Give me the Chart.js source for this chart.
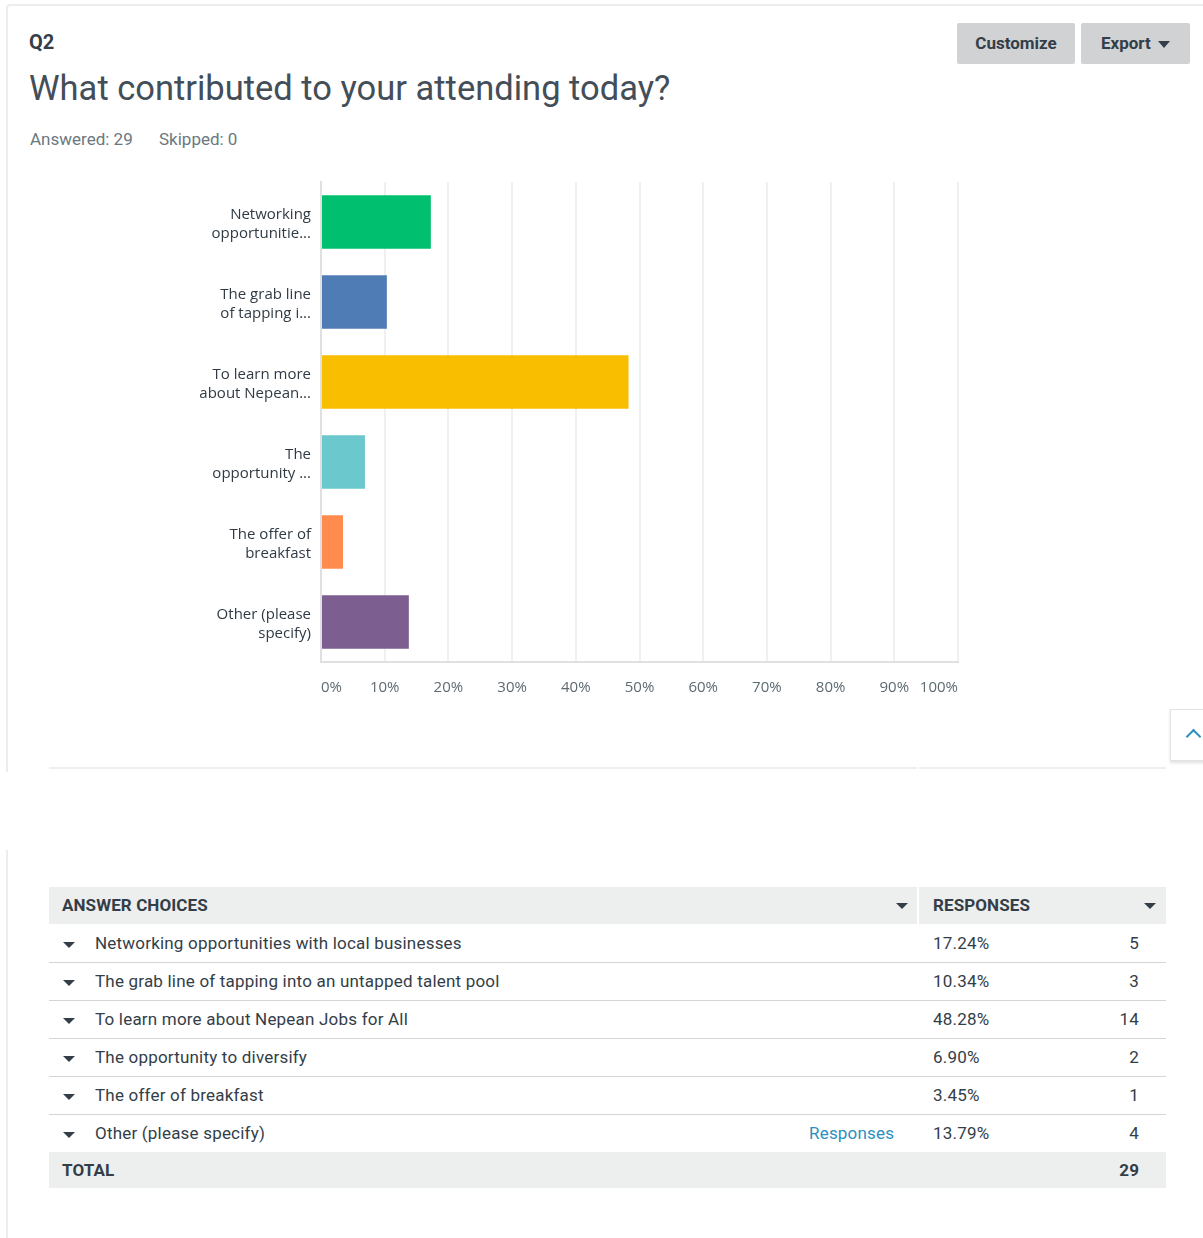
<!DOCTYPE html>
<html>
<head>
<meta charset="utf-8">
<script src="https://cdn.jsdelivr.net/npm/chart.js@4/dist/chart.umd.min.js"></script>
<style>
  body { margin: 0; width: 1203px; height: 1238px; position: relative; overflow: hidden; background: #fff;
         font-family: Roboto, "Noto Sans", sans-serif; color: #333e48; }
  .card1 { position: absolute; left: 6px; top: 4px; width: 1250px; height: 766px;
           border-top: 2px solid #eceeee; border-left: 2px solid #eceeee; border-top-left-radius: 4px; }
  .card2 { position: absolute; left: 6px; top: 850px; height: 400px; border-left: 2px solid #eceeee; }
  .q { position: absolute; left: 29px; top: 30px; font-size: 20px; font-weight: 700; }
  .title { position: absolute; left: 29px; top: 68px; font-size: 34.5px; font-weight: 400; white-space: nowrap; color: #434e58; }
  .meta { position: absolute; top: 129px; font-size: 17px; color: #6b787f; }
  .btn { position: absolute; top: 23px; height: 41px; background: #d0d2d3; border-radius: 2px;
         font-weight: 700; font-size: 17px; line-height: 41px; text-align: center; color: #333e48; }
  .tri { display: inline-block; width: 0; height: 0; border-left: 6px solid transparent;
         border-right: 6px solid transparent; border-top: 6px solid #333e48; vertical-align: middle; }
  #chartBox { position: absolute; left: 150px; top: 170px; width: 830px; height: 550px; }
  .divider { position: absolute; top: 767px; height: 2px; background: #eeefef; }
  .totop { position: absolute; left: 1170px; top: 709px; width: 45px; height: 50px; background: #fff;
           border: 1px solid #e3e3e3; box-shadow: 0 2px 3px rgba(0,0,0,0.12); }
  .totop i { position: absolute; left: 17px; top: 21px; width: 9px; height: 9px;
             border-left: 2px solid #2d8fc0; border-top: 2px solid #2d8fc0; transform: rotate(45deg); }
  .row { position: absolute; left: 49px; width: 1117px; font-size: 17px; letter-spacing: 0.2px; line-height: 37px; }
  .row span { position: absolute; white-space: nowrap; }
  .hdr { background: #edeeee; font-weight: 700; text-transform: uppercase; letter-spacing: 0.1px; }
</style>
</head>
<body>
<div class="card1"></div>
<div class="card2"></div>

<div class="q">Q2</div>
<div class="title">What contributed to your attending today?</div>
<div class="meta" style="left:30px">Answered: 29</div>
<div class="meta" style="left:159px">Skipped: 0</div>
<div class="btn" style="left:957px;width:118px">Customize</div>
<div class="btn" style="left:1081px;width:109px">Export <span class="tri" style="margin-left:3px;border-top-width:7px"></span></div>

<div id="chartBox"><canvas id="q2-chart"></canvas></div>

<div class="divider" style="left:49px;width:868px"></div>
<div class="divider" style="left:919px;width:247px"></div>
<div class="totop"><i></i></div>

<div id="q2-table"></div>

<script>
// answer choices, as shown in the chart and the table
const chartLabels = [
    ['Networking', 'opportunitie...'],
    ['The grab line', 'of tapping i...'],
    ['To learn more', 'about Nepean...'],
    ['The', 'opportunity ...'],
    ['The offer of', 'breakfast'],
    ['Other (please', 'specify)']
];
const choices = [
    'Networking opportunities with local businesses',
    'The grab line of tapping into an untapped talent pool',
    'To learn more about Nepean Jobs for All',
    'The opportunity to diversify',
    'The offer of breakfast',
    'Other (please specify)'
];
const percents = [17.24, 10.34, 48.28, 6.90, 3.45, 13.79];
const counts = [5, 3, 14, 2, 1, 4];
const barColors = ['#00bf6f', '#507cb6', '#f9be00', '#6bc8cd', '#ff8b4f', '#7d5e90'];
const tickLabels = ['0%', '10%', '20%', '30%', '40%', '50%', '60%', '70%', '80%', '90%', '100%'];

const chartConfig = {
    type: 'bar',
    data: {
        labels: chartLabels,
        datasets: [{
            data: percents,
            backgroundColor: barColors,
            barPercentage: 0.67,
            categoryPercentage: 1
        }]
    },
    options: {
        indexAxis: 'y',
        responsive: true,
        maintainAspectRatio: false,
        animation: false,
        layout: {
            padding: { top: 12, right: 22, left: 0, bottom: 0 }
        },
        scales: {
            x: {
                min: 0,
                max: 100,
                ticks: {
                    stepSize: 10,
                    align: 'inner',
                    padding: 17,
                    color: '#5d6a72',
                    font: { family: 'Open Sans', size: 15 },
                    callback: function (value, index) {
                        return tickLabels[index];
                    }
                },
                grid: { color: '#f0f0f0', lineWidth: 2, drawTicks: false },
                border: { color: '#e0e0e0', width: 2 },
                afterFit: function (scale) {
                    scale.height = 58;
                }
            },
            y: {
                ticks: {
                    padding: 10,
                    labelOffset: 2,
                    color: '#2f3a44',
                    font: { family: 'Open Sans', size: 15, lineHeight: '19px' }
                },
                grid: { display: false, drawTicks: false },
                border: { color: '#e0e0e0', width: 2 },
                afterFit: function (scale) {
                    // fixed label column, no extra room above/below for the labels
                    scale.width = 171;
                    scale.paddingTop = 0;
                    scale.paddingBottom = 0;
                }
            }
        },
        plugins: {
            legend: { display: false },
            tooltip: { enabled: false }
        }
    }
};

new Chart(document.getElementById('q2-chart'), chartConfig);

// summary table below the chart
(function () {
    const table = document.getElementById('q2-table');
    let html = '';
    html += '<div class="row hdr" style="top:887px;height:37px;background:none">' +
        '<div style="position:absolute;left:0;top:0;width:868px;height:37px;background:#edeeee"></div>' +
        '<div style="position:absolute;left:870px;top:0;width:247px;height:37px;background:#edeeee"></div>' +
        '<span style="left:13px">Answer Choices</span>' +
        '<span style="left:847px"><span class="tri" style="position:absolute;left:0;top:16px"></span></span>' +
        '<span style="left:884px">Responses</span>' +
        '<span style="left:1095px"><span class="tri" style="position:absolute;left:0;top:16px"></span></span>' +
        '</div>';
    let total = 0;
    for (let i = 0; i < choices.length; i++) {
        const top = 925 + i * 38;
        const border = i < choices.length - 1 ? 'border-bottom:1px solid #d3d5d6;' : '';
        html += '<div class="row" style="top:' + top + 'px;height:37px;' + border + '">' +
            '<span class="tri" style="position:absolute;left:14px;top:17px"></span>' +
            '<span style="left:46px">' + choices[i] + '</span>' +
            (i === choices.length - 1 ? '<span style="left:760px;color:#2d8fc0">Responses</span>' : '') +
            '<span style="left:884px">' + percents[i].toFixed(2) + '%</span>' +
            '<span style="right:27px">' + counts[i] + '</span>' +
            '</div>';
        total += counts[i];
    }
    html += '<div class="row hdr" style="top:1152px;height:36px;line-height:36px">' +
        '<span style="left:13px">Total</span>' +
        '<span style="right:27px">' + total + '</span>' +
        '</div>';
    table.innerHTML = html;
})();
</script>
</body>
</html>
